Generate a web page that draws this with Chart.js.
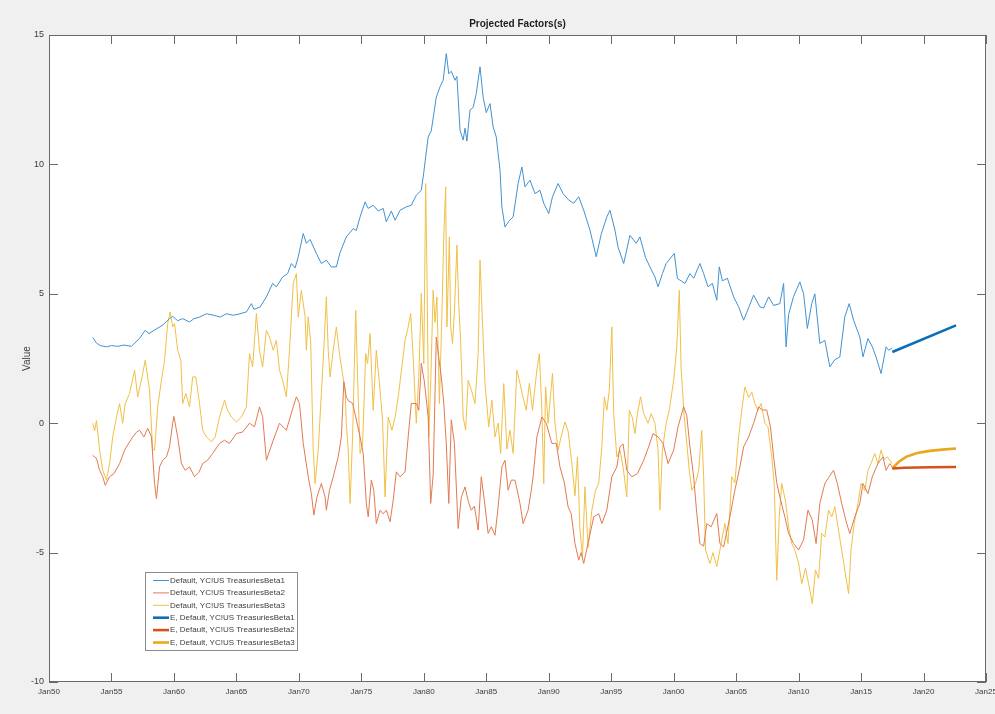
<!DOCTYPE html>
<html>
<head>
<meta charset="utf-8">
<script src="https://cdn.jsdelivr.net/npm/chart.js@4.4.1/dist/chart.umd.min.js"></script>
<style>
  html, body { margin: 0; padding: 0; background: #f0f0f0; }
  #wrap { width: 995px; height: 714px; }
</style>
</head>
<body>
<div id="wrap"><canvas id="chart" width="995" height="714"></canvas></div>
<script>
// Projected yield-curve factors: history (thin) and forecast (thick), [year, value]
const beta1 = [[1953.5,3.31],[1953.8,3.1],[1954.1,3.0],[1954.6,2.95],[1955.0,3.0],[1955.5,2.97],[1956.0,3.02],[1956.6,2.97],[1957.25,3.28],[1957.7,3.59],[1958.0,3.46],[1958.45,3.6],[1959.1,3.79],[1959.65,4.04],[1959.9,4.13],[1960.3,3.96],[1960.7,4.04],[1961.25,3.91],[1961.6,4.04],[1962.05,4.1],[1962.6,4.23],[1963.2,4.17],[1963.7,4.1],[1964.2,4.23],[1964.75,4.17],[1965.3,4.23],[1965.8,4.3],[1966.2,4.62],[1966.4,4.4],[1966.9,4.49],[1967.4,4.88],[1967.9,5.4],[1968.2,5.27],[1968.7,5.65],[1969.1,5.78],[1969.4,6.17],[1969.7,6.0],[1969.95,6.43],[1970.35,7.33],[1970.6,6.95],[1970.9,7.1],[1971.4,6.56],[1971.8,6.17],[1972.2,6.3],[1972.6,6.04],[1973.0,6.04],[1973.3,6.6],[1973.8,7.2],[1974.35,7.52],[1974.6,7.45],[1974.9,7.97],[1975.3,8.55],[1975.55,8.3],[1975.95,8.42],[1976.35,8.2],[1976.75,8.3],[1977.0,7.78],[1977.4,8.2],[1977.7,7.84],[1978.1,8.23],[1978.6,8.36],[1979.0,8.42],[1979.4,8.81],[1979.8,9.0],[1980.0,9.7],[1980.15,10.29],[1980.35,11.06],[1980.6,11.3],[1981.0,12.6],[1981.3,13.0],[1981.55,13.25],[1981.8,14.28],[1982.0,13.5],[1982.2,13.6],[1982.5,13.25],[1982.65,13.4],[1982.9,11.32],[1983.15,10.94],[1983.3,11.4],[1983.45,10.9],[1983.7,12.1],[1983.95,12.2],[1984.2,12.74],[1984.5,13.77],[1984.75,12.6],[1985.0,12.0],[1985.3,12.35],[1985.55,11.45],[1985.8,11.06],[1986.1,9.78],[1986.25,8.36],[1986.5,7.58],[1986.8,7.8],[1987.15,7.97],[1987.55,9.26],[1987.85,9.9],[1988.1,9.13],[1988.5,9.39],[1988.9,8.87],[1989.3,9.0],[1989.6,8.5],[1990.0,8.1],[1990.3,8.75],[1990.75,9.26],[1991.15,8.87],[1991.6,8.62],[1992.0,8.5],[1992.4,8.75],[1992.8,8.23],[1993.3,7.46],[1993.8,6.43],[1994.2,7.3],[1994.65,7.97],[1994.9,8.23],[1995.3,7.46],[1995.55,6.8],[1996.0,6.17],[1996.5,7.26],[1997.0,6.95],[1997.3,7.2],[1997.75,6.4],[1998.1,6.04],[1998.5,5.65],[1998.75,5.27],[1999.1,5.78],[1999.4,6.17],[2000.05,6.56],[2000.3,5.59],[2000.6,5.5],[2000.9,5.4],[2001.3,5.78],[2001.6,5.6],[2002.1,6.17],[2002.4,5.78],[2002.75,5.27],[2003.1,5.4],[2003.45,4.75],[2003.65,6.04],[2003.9,5.5],[2004.3,5.6],[2004.8,4.88],[2005.2,4.5],[2005.6,3.98],[2005.95,4.4],[2006.4,4.95],[2006.9,4.5],[2007.2,4.45],[2007.6,4.88],[2008.0,4.55],[2008.5,4.62],[2008.8,5.4],[2009.0,2.95],[2009.2,4.2],[2009.6,4.9],[2010.1,5.46],[2010.4,5.0],[2010.7,3.66],[2011.05,4.62],[2011.3,5.0],[2011.7,3.08],[2012.1,3.2],[2012.5,2.18],[2012.9,2.45],[2013.3,2.56],[2013.7,4.11],[2014.05,4.62],[2014.4,3.98],[2014.9,3.33],[2015.15,2.56],[2015.55,3.27],[2015.9,2.95],[2016.2,2.56],[2016.6,1.92],[2017.0,2.95],[2017.2,2.82],[2017.5,2.9]];

const beta2 = [[1953.5,-1.24],[1953.8,-1.36],[1954.05,-1.82],[1954.3,-2.06],[1954.5,-2.4],[1954.85,-2.07],[1955.2,-1.95],[1955.65,-1.56],[1956.05,-1.04],[1956.35,-0.8],[1956.7,-0.53],[1957.0,-0.35],[1957.25,-0.27],[1957.6,-0.53],[1957.9,-0.2],[1958.2,-0.53],[1958.45,-2.33],[1958.6,-2.91],[1958.85,-1.69],[1959.1,-1.43],[1959.4,-1.3],[1959.65,-0.91],[1959.9,0.0],[1960.0,0.26],[1960.3,-0.53],[1960.6,-1.56],[1960.9,-1.82],[1961.25,-1.69],[1961.65,-2.07],[1962.0,-1.9],[1962.3,-1.56],[1962.7,-1.43],[1963.1,-1.17],[1963.65,-0.78],[1964.05,-0.66],[1964.45,-0.78],[1965.0,-0.4],[1965.5,-0.34],[1966.05,0.0],[1966.45,-0.14],[1966.85,0.63],[1967.1,0.25],[1967.4,-1.43],[1967.95,-0.66],[1968.45,0.0],[1969.0,-0.27],[1969.55,0.63],[1969.8,1.02],[1970.05,0.76],[1970.35,-0.78],[1970.75,-2.07],[1971.0,-2.72],[1971.2,-3.55],[1971.45,-2.85],[1971.8,-2.33],[1972.1,-2.85],[1972.2,-3.36],[1972.45,-2.59],[1972.75,-2.07],[1973.15,-1.3],[1973.4,-0.53],[1973.6,1.6],[1973.8,1.0],[1974.0,0.85],[1974.3,0.77],[1974.55,0.24],[1974.9,-0.53],[1975.15,-1.17],[1975.4,-3.1],[1975.55,-3.62],[1975.8,-2.2],[1976.0,-2.6],[1976.2,-3.88],[1976.5,-3.36],[1976.75,-3.5],[1977.0,-3.36],[1977.3,-3.81],[1977.55,-2.98],[1977.8,-1.88],[1978.1,-2.07],[1978.5,-1.88],[1978.75,-0.53],[1979.0,0.76],[1979.4,0.76],[1979.6,0.5],[1979.8,2.31],[1980.05,1.59],[1980.35,0.24],[1980.55,-3.1],[1980.75,-2.0],[1981.0,3.33],[1981.2,2.54],[1981.4,1.79],[1981.6,0.76],[1981.8,-0.78],[1982.0,-3.1],[1982.2,0.13],[1982.45,-0.78],[1982.75,-4.07],[1983.0,-2.87],[1983.3,-2.46],[1983.55,-3.0],[1983.8,-3.36],[1984.05,-3.2],[1984.35,-4.13],[1984.6,-2.07],[1984.85,-3.0],[1985.15,-4.26],[1985.4,-4.0],[1985.7,-4.33],[1985.95,-3.23],[1986.25,-1.69],[1986.5,-1.43],[1986.75,-2.59],[1987.0,-2.2],[1987.3,-2.2],[1987.7,-3.1],[1987.95,-3.88],[1988.35,-3.36],[1988.6,-2.6],[1988.75,-2.07],[1989.05,-0.53],[1989.45,0.24],[1989.8,0.0],[1990.25,-0.78],[1990.6,-0.78],[1990.9,-1.69],[1991.25,-2.3],[1991.55,-3.23],[1991.8,-3.5],[1992.1,-4.65],[1992.4,-5.29],[1992.6,-5.0],[1992.8,-5.42],[1993.2,-4.52],[1993.6,-3.62],[1994.0,-3.5],[1994.25,-3.88],[1994.65,-3.36],[1995.05,-2.07],[1995.45,-1.69],[1995.7,-0.91],[1995.95,-0.8],[1996.25,-1.82],[1996.65,-2.07],[1997.1,-1.95],[1997.6,-1.43],[1998.0,-0.91],[1998.35,-0.4],[1998.75,-0.53],[1999.15,-0.78],[1999.55,-1.56],[2000.0,-1.04],[2000.35,-0.14],[2000.8,0.63],[2001.05,0.3],[2001.3,-0.91],[2001.6,-2.07],[2001.85,-3.49],[2002.1,-4.65],[2002.4,-4.75],[2002.65,-3.88],[2003.0,-4.0],[2003.45,-3.49],[2003.7,-4.65],[2004.0,-4.78],[2004.5,-3.62],[2004.9,-2.59],[2005.3,-1.69],[2005.6,-0.91],[2006.0,-0.53],[2006.4,0.0],[2006.8,0.63],[2007.1,0.51],[2007.45,0.51],[2007.75,-0.14],[2008.0,-1.3],[2008.25,-2.3],[2008.5,-2.85],[2008.9,-3.62],[2009.2,-4.26],[2009.6,-4.65],[2010.0,-4.9],[2010.4,-4.5],[2010.75,-3.36],[2011.1,-3.75],[2011.4,-4.65],[2011.7,-3.1],[2012.1,-2.33],[2012.4,-2.1],[2012.8,-1.82],[2013.1,-2.33],[2013.45,-3.1],[2013.85,-3.88],[2014.1,-4.26],[2014.5,-3.62],[2014.9,-3.1],[2015.15,-2.33],[2015.55,-2.72],[2015.9,-2.07],[2016.35,-1.56],[2016.75,-1.3],[2017.0,-1.82],[2017.3,-1.56],[2017.5,-1.69]];

const beta3 = [[1953.5,0.0],[1953.65,-0.3],[1953.8,0.1],[1954.05,-1.04],[1954.3,-1.82],[1954.6,-2.2],[1954.85,-1.56],[1955.1,-0.53],[1955.4,0.24],[1955.65,0.76],[1955.9,0.0],[1956.1,0.76],[1956.45,1.15],[1956.85,2.05],[1957.1,1.02],[1957.45,1.79],[1957.7,2.43],[1958.05,1.28],[1958.3,-1.04],[1958.45,-1.04],[1958.7,0.63],[1959.0,1.66],[1959.25,2.43],[1959.5,3.85],[1959.7,4.3],[1959.9,3.72],[1960.05,3.85],[1960.3,2.82],[1960.55,2.43],[1960.7,0.76],[1960.95,1.15],[1961.25,0.63],[1961.5,1.79],[1961.75,1.79],[1962.05,0.76],[1962.3,-0.27],[1962.6,-0.53],[1963.0,-0.72],[1963.3,-0.53],[1963.65,0.24],[1964.05,0.89],[1964.3,0.5],[1964.6,0.24],[1965.0,0.05],[1965.4,0.24],[1965.8,0.63],[1966.05,2.69],[1966.3,2.17],[1966.6,4.24],[1966.85,2.82],[1967.1,2.17],[1967.4,3.59],[1967.65,3.33],[1967.95,2.82],[1968.2,3.2],[1968.45,2.05],[1968.7,1.66],[1969.0,1.02],[1969.25,2.82],[1969.55,5.4],[1969.8,5.78],[1969.95,4.1],[1970.2,5.14],[1970.5,4.11],[1970.6,2.82],[1970.75,4.11],[1970.95,3.1],[1971.15,-1.04],[1971.3,-2.33],[1971.55,-1.04],[1971.8,1.15],[1971.95,2.43],[1972.2,4.88],[1972.35,2.82],[1972.5,1.79],[1972.75,2.82],[1973.0,3.72],[1973.25,2.69],[1973.45,2.05],[1973.7,1.28],[1973.8,0.0],[1973.95,-1.04],[1974.1,-3.1],[1974.3,-0.53],[1974.55,4.37],[1974.7,1.79],[1974.9,-1.17],[1975.1,-0.8],[1975.35,2.69],[1975.5,2.3],[1975.7,3.46],[1975.95,0.5],[1976.2,2.82],[1976.45,1.54],[1976.7,0.12],[1976.9,-2.85],[1977.15,0.24],[1977.45,-0.27],[1977.7,0.24],[1977.95,1.0],[1978.2,2.0],[1978.5,3.2],[1978.75,3.72],[1978.95,4.24],[1979.15,2.56],[1979.4,0.0],[1979.6,1.8],[1979.8,5.01],[1980.0,2.3],[1980.15,9.26],[1980.25,5.91],[1980.4,-0.53],[1980.55,1.5],[1980.75,5.14],[1980.9,3.9],[1981.05,4.88],[1981.25,0.76],[1981.45,4.24],[1981.6,7.2],[1981.75,9.13],[1981.85,3.72],[1982.05,7.2],[1982.15,3.72],[1982.3,3.08],[1982.45,4.3],[1982.65,6.88],[1982.8,4.5],[1982.95,3.2],[1983.15,0.24],[1983.35,-0.27],[1983.55,1.66],[1983.8,1.3],[1984.1,0.76],[1984.35,2.69],[1984.5,6.3],[1984.7,3.85],[1984.9,1.53],[1985.2,-0.14],[1985.45,0.89],[1985.7,-0.53],[1985.95,0.0],[1986.15,-1.17],[1986.4,1.53],[1986.65,-1.0],[1986.9,-0.27],[1987.15,-1.17],[1987.45,2.05],[1987.7,1.54],[1987.95,1.0],[1988.2,0.5],[1988.45,1.54],[1988.7,0.5],[1989.05,2.05],[1989.25,2.69],[1989.45,0.5],[1989.6,-2.33],[1989.75,1.4],[1989.95,0.0],[1990.3,1.92],[1990.5,0.0],[1990.75,-1.04],[1991.0,-0.5],[1991.3,0.05],[1991.55,-0.3],[1991.85,-1.56],[1992.1,-2.8],[1992.3,-1.3],[1992.5,-4.13],[1992.7,-5.16],[1992.9,-2.46],[1993.15,-4.8],[1993.45,-3.36],[1993.75,-2.59],[1994.0,-2.33],[1994.25,-0.91],[1994.45,1.02],[1994.65,0.5],[1994.85,1.28],[1995.05,3.72],[1995.2,0.37],[1995.45,-1.3],[1995.7,-1.04],[1995.95,-1.69],[1996.25,-2.85],[1996.45,0.5],[1996.7,0.2],[1996.9,-0.4],[1997.1,0.37],[1997.35,1.02],[1997.6,0.37],[1997.95,0.0],[1998.2,0.37],[1998.5,0.0],[1998.75,-1.04],[1998.9,-3.36],[1999.1,-1.04],[1999.4,0.0],[1999.65,0.5],[2000.0,1.66],[2000.25,2.95],[2000.45,5.14],[2000.6,2.05],[2000.85,0.24],[2001.05,-0.78],[2001.25,-1.82],[2001.45,-2.59],[2001.75,-2.33],[2002.0,-1.82],[2002.25,-0.27],[2002.4,-2.07],[2002.55,-4.9],[2002.9,-5.42],[2003.15,-5.0],[2003.45,-5.55],[2003.85,-4.52],[2004.1,-3.88],[2004.35,-4.65],[2004.65,-2.07],[2004.9,-2.3],[2005.2,-0.53],[2005.45,0.5],[2005.7,1.4],[2006.0,1.0],[2006.25,1.2],[2006.5,0.76],[2006.75,0.5],[2007.0,0.76],[2007.3,0.0],[2007.55,-0.14],[2007.85,-1.3],[2008.05,-2.33],[2008.25,-6.07],[2008.45,-3.62],[2008.65,-2.33],[2008.95,-3.0],[2009.2,-4.0],[2009.45,-4.65],[2009.7,-4.9],[2010.0,-5.4],[2010.25,-6.2],[2010.55,-5.6],[2010.8,-6.2],[2011.1,-6.97],[2011.35,-5.67],[2011.6,-6.0],[2011.85,-4.26],[2012.1,-4.4],[2012.4,-3.36],[2012.65,-3.62],[2012.9,-3.23],[2013.15,-4.0],[2013.45,-4.9],[2013.7,-5.68],[2014.0,-6.58],[2014.2,-4.9],[2014.45,-3.88],[2014.75,-3.1],[2015.0,-2.33],[2015.3,-2.6],[2015.55,-1.82],[2015.8,-1.56],[2016.1,-1.17],[2016.35,-1.56],[2016.6,-1.04],[2016.85,-1.4],[2017.1,-1.3],[2017.5,-1.56]];

const forecastBeta1 = [[2017.5,2.75],[2022.6,3.78]];
const forecastBeta2 = [[2017.5,-1.75],[2018.5,-1.72],[2020.5,-1.7],[2022.6,-1.69]];
const forecastBeta3 = [[2017.5,-1.75],[2018.0,-1.5],[2018.6,-1.3],[2019.5,-1.15],[2020.5,-1.07],[2021.5,-1.02],[2022.6,-0.98]];

const seriesLabels = [
  'Default, YC!US TreasuriesBeta1',
  'Default, YC!US TreasuriesBeta2',
  'Default, YC!US TreasuriesBeta3',
  'E, Default, YC!US TreasuriesBeta1',
  'E, Default, YC!US TreasuriesBeta2',
  'E, Default, YC!US TreasuriesBeta3'
];
const yearTicks = [1950, 2025, 5];   // first, last, step of the date axis
const valueTicks = [-10, 15, 5];     // first, last, step of the value axis

const FONT = '"Liberation Sans", Arial, Helvetica, sans-serif';
const TEXT = '#3c3c3c';
const toXY = s => s.map(p => ({ x: p[0], y: p[1] }));

const series = [
  { src: beta1, color: '#4192d2', width: 1 },
  { src: beta2, color: '#e37a52', width: 1 },
  { src: beta3, color: '#f1c046', width: 1 },
  { src: forecastBeta1, color: '#0b6fb8', width: 2.6 },
  { src: forecastBeta2, color: '#d4531b', width: 2.6 },
  { src: forecastBeta3, color: '#eaa61c', width: 2.6 }
];

// figure background, white axes box, inward ticks, frame, legend and title
const matlabFrame = {
  id: 'matlabFrame',
  beforeDraw(chart) {
    const { ctx, chartArea: a } = chart;
    ctx.save();
    ctx.fillStyle = '#f0f0f0';
    ctx.fillRect(0, 0, chart.width, chart.height);
    ctx.fillStyle = '#ffffff';
    ctx.fillRect(a.left, a.top, a.right - a.left, a.bottom - a.top);
    ctx.restore();
  },
  afterDatasetsDraw(chart) {
    const { ctx, chartArea: a, scales } = chart;
    const xs = scales.x, ys = scales.y;
    const L = 9;
    ctx.save();
    ctx.strokeStyle = '#6a6a6a';
    ctx.lineWidth = 1;
    ctx.beginPath();
    xs.ticks.forEach(t => {
      const px = Math.round(xs.getPixelForValue(t.value)) + 0.5;
      ctx.moveTo(px, a.bottom); ctx.lineTo(px, a.bottom - L);
      ctx.moveTo(px, a.top); ctx.lineTo(px, a.top + L);
    });
    ys.ticks.forEach(t => {
      const py = Math.round(ys.getPixelForValue(t.value)) + 0.5;
      ctx.moveTo(a.left, py); ctx.lineTo(a.left + L, py);
      ctx.moveTo(a.right, py); ctx.lineTo(a.right - L, py);
    });
    ctx.stroke();
    ctx.strokeRect(Math.round(a.left) + 0.5, Math.round(a.top) + 0.5,
                   Math.round(a.right - a.left) - 1, Math.round(a.bottom - a.top) - 1);

    // legend box, lower left inside the axes
    const lx = 145, ly = 572, lw = 152, lh = 78, row = 12.4;
    ctx.fillStyle = '#ffffff';
    ctx.fillRect(lx, ly, lw, lh);
    ctx.strokeStyle = '#8a8a8a';
    ctx.strokeRect(lx + 0.5, ly + 0.5, lw, lh);
    ctx.font = '8px ' + FONT;
    ctx.textBaseline = 'middle';
    ctx.textAlign = 'left';
    chart.data.datasets.forEach((ds, i) => {
      const cy = ly + 8.5 + i * row;
      ctx.strokeStyle = ds.borderColor;
      ctx.lineWidth = ds.borderWidth;
      ctx.beginPath();
      ctx.moveTo(lx + 8, cy); ctx.lineTo(lx + 24, cy);
      ctx.stroke();
      ctx.fillStyle = TEXT;
      ctx.fillText(ds.label, lx + 25, cy);
    });

    // title
    ctx.fillStyle = '#1e1e1e';
    ctx.font = 'bold 10px ' + FONT;
    ctx.textAlign = 'center';
    ctx.textBaseline = 'middle';
    ctx.fillText('Projected Factors(s)', (a.left + a.right) / 2, 24);
    ctx.restore();
  }
};

new Chart(document.getElementById('chart'), {
  type: 'line',
  data: {
    datasets: series.map((s, i) => ({
      label: seriesLabels[i],
      data: toXY(s.src),
      borderColor: s.color,
      borderWidth: s.width,
      pointRadius: 0,
      tension: 0,
      fill: false
    }))
  },
  options: {
    responsive: false,
    devicePixelRatio: 1,
    animation: false,
    events: [],
    layout: { padding: { top: 35, right: 9, bottom: 0, left: 0 } },
    plugins: { legend: { display: false }, title: { display: false }, tooltip: { enabled: false } },
    scales: {
      x: {
        type: 'linear',
        min: yearTicks[0], max: yearTicks[1],
        grid: { display: false, drawTicks: false },
        border: { display: false },
        ticks: {
          stepSize: yearTicks[2], padding: 5, autoSkip: false, maxRotation: 0,
          color: TEXT, font: { family: FONT, size: 8 },
          callback: v => 'Jan' + String(v % 100).padStart(2, '0')
        },
        afterFit(s) { s.height = 32; s.paddingLeft = 0; s.paddingRight = 0; }
      },
      y: {
        min: valueTicks[0], max: valueTicks[1],
        grid: { display: false, drawTicks: false },
        border: { display: false },
        ticks: {
          stepSize: valueTicks[2], padding: 5,
          color: TEXT, font: { family: FONT, size: 9 }
        },
        title: {
          display: true, text: 'Value', color: TEXT,
          font: { family: FONT, size: 10 }, padding: { top: 21, bottom: 0 }
        },
        afterFit(s) { s.width = 49; s.paddingTop = 0; s.paddingBottom = 0; }
      }
    }
  },
  plugins: [matlabFrame]
});
</script>
</body>
</html>
